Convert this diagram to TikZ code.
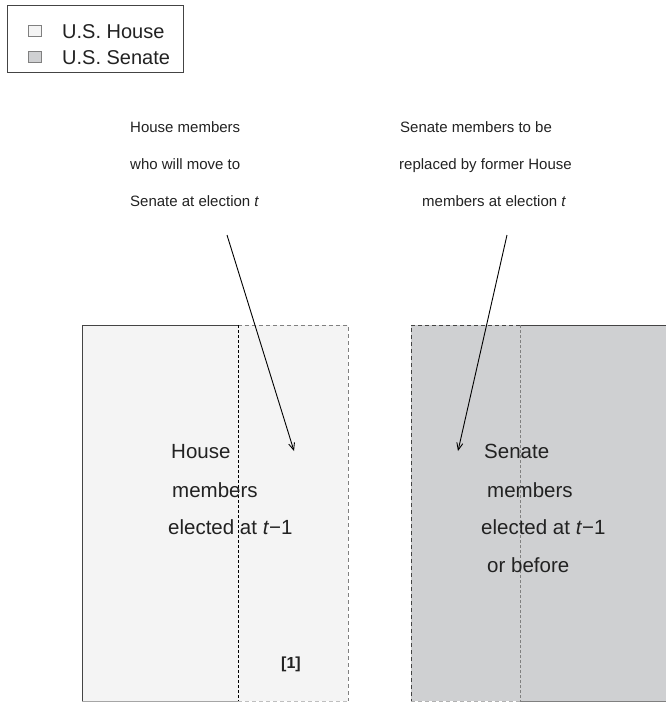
\documentclass[tikz,border=0pt]{standalone}
\usepackage{fontspec}
\setmainfont{Liberation Sans}
\usetikzlibrary{arrows.meta}
\definecolor{housefill}{HTML}{F4F4F4}
\definecolor{senatefill}{HTML}{CFD0D2}
\definecolor{edgegray}{HTML}{444444}
\definecolor{inkgray}{HTML}{222222}
\tikzset{
  note/.style={anchor=base west, inner sep=0pt, text=inkgray, font=\fontsize{15}{18}\selectfont},
  body/.style={anchor=base west, inner sep=0pt, text=inkgray, font=\fontsize{20.5}{24}\selectfont},
  key/.style={anchor=base west, inner sep=0pt, text=inkgray, font=\fontsize{20}{24}\selectfont},
  swatch/.style={draw=gray, line width=1pt, minimum width=13pt, minimum height=11pt, inner sep=0pt},
  solidedge/.style={draw=edgegray, line width=1pt},
  dashedge/.style={draw=edgegray, line width=1pt, dash pattern=on 4pt off 3pt},
  pointer/.style={-{Straight Barb[length=7pt,width=6pt]}, line width=0.9pt}
}
\begin{document}
\begin{tikzpicture}[x=1pt,y=-1pt]
    \useasboundingbox (0,0) rectangle (666,702);

    % legend
    \draw[edgegray, line width=1pt] (7,5) rectangle (183,72);
    \node[swatch, fill=housefill] (keyhouse) at (35,31) {};
    \node[swatch, fill=senatefill] (keysenate) at (35,57) {};
    \node[key] (keyhousetxt) at (62,38) {U.S. House};
    \node[key] (keysenatetxt) at (62,64) {U.S. Senate};

    % House block
    \fill[housefill] (82,325) rectangle (348,701);
    \draw[solidedge] (238,325) -- (82,325) -- (82,701);
    \draw[solidedge, draw=gray!70] (82,701) -- (238,701);
    \draw[dashedge, draw=gray] (238,325) -- (348,325) -- (348,701);
    \draw[dashedge, draw=gray!50] (238,701) -- (348,701);
    \draw[dashedge, draw=black, dash pattern=on 3pt off 2pt] (238,325) -- (238,701);

    % Senate block
    \fill[senatefill] (411,325) rectangle (668,701);
    \draw[solidedge] (520,325) -- (668,325);
    \draw[solidedge, draw=gray] (520,701) -- (668,701);
    \draw[dashedge] (520,325) -- (411,325) -- (411,701);
    \draw[dashedge, draw=gray!60] (411,701) -- (520,701);
    \draw[dashedge, draw=gray, dash pattern=on 3pt off 2pt] (520,325) -- (520,701);

    % notes above
    \node[note] (hnote1) at (130,132) {House members};
    \node[note] (hnote2) at (130,169) {who will move to};
    \node[note] (hnote3) at (130,206) {Senate at election \textit{t}};
    \node[note] (snote1) at (400,132) {Senate members to be};
    \node[note] (snote2) at (399,169) {replaced by former House};
    \node[note] (snote3) at (422,206) {members at election \textit{t}};

    % pointers
    \coordinate (hfrom) at (227,235);
    \coordinate (hto) at (294,451);
    \coordinate (sfrom) at (507,235);
    \coordinate (sto) at (458,451);
    \draw[pointer] (hfrom) -- (hto);
    \draw[pointer] (sfrom) -- (sto);

    % block texts
    \node[body] (hbody1) at (171,458) {House};
    \node[body] (hbody2) at (172,497) {members};
    \node[body] (hbody3) at (168,534) {elected at \textit{t}−1};
    \node[anchor=base west, inner sep=0pt, text=inkgray, font=\fontsize{16}{19}\selectfont\bfseries] (tag) at (281,668) {[1]};

    \node[body] (sbody1) at (484,458) {Senate};
    \node[body] (sbody2) at (487,497) {members};
    \node[body] (sbody3) at (481,534) {elected at \textit{t}−1};
    \node[body] (sbody4) at (487,572) {or before};
\end{tikzpicture}
\end{document}
